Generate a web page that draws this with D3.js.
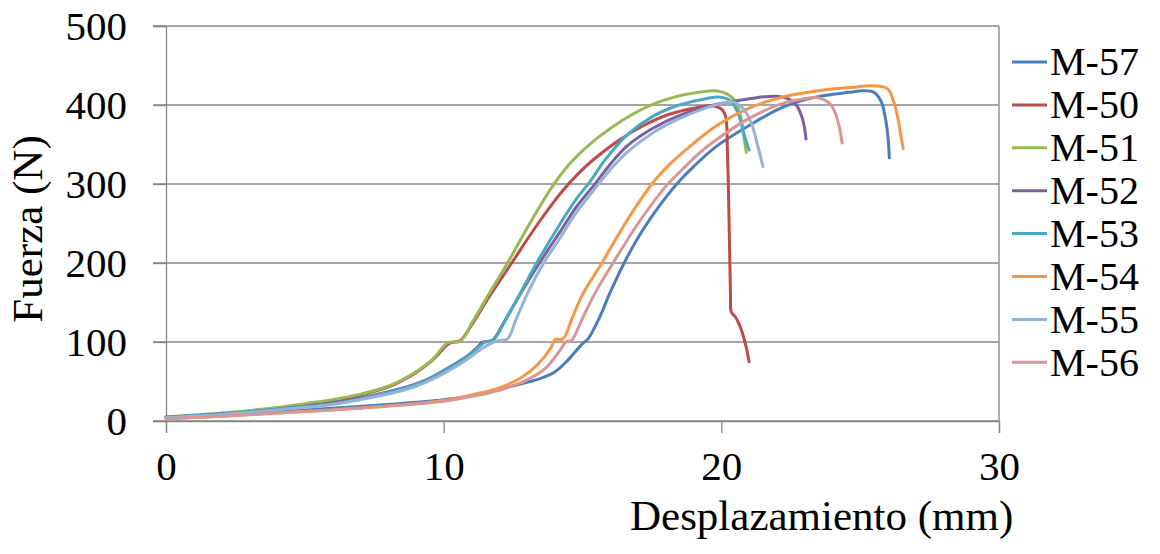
<!DOCTYPE html>
<html><head><meta charset="utf-8">
<script src="https://cdn.jsdelivr.net/npm/d3@7"></script>
<style>body{margin:0;background:#fff}svg{display:block}</style>
</head><body><svg id="c" width="1160" height="554"></svg>
<script>
const seriesNames = ["M-57","M-50","M-51","M-52","M-53","M-54","M-55","M-56"];
const seriesColors = ["#4A7EBB","#BE4B48","#98B954","#7D60A0","#46AAC5","#F79646","#95B3D7","#D99694"];
const xTicks = [0,10,20,30];
const yTicks = [0,100,200,300,400,500];

const m57 = [[0,4],[2,8],[4,12],[6,16],[8,21],[10,27],[11,32],[12,40],[13,49],[13.5,54],[14.0,62],[14.5,78],[15.0,98],[15.2,104],[15.6,130],[16.0,163],[16.5,200],[17.0,232],[17.5,259],[18.0,283],[18.5,304],[19.0,322],[19.8,347],[21,374],[22.2,397],[23.4,410],[24.6,416],[25.1,418],[25.5,416],[25.75,405],[25.9,385],[26.0,360],[26.05,333]];
const m50 = [[0,4],[2,9],[4,16],[5,21],[6,26],[7,33],[8,43],[8.5,51],[9,61],[9.6,77],[10.2,98],[10.6,102],[11.0,121],[11.6,155],[12.45,200],[13.4,250],[14.3,292],[14.9,315],[15.4,331],[16.3,355],[17.2,374],[18.1,388],[19.0,396],[19.6,399],[20.0,395],[20.15,386],[20.22,340],[20.28,250],[20.33,160],[20.36,138],[20.5,132],[20.65,122],[20.85,100],[21.0,75]];
const m51 = [[0,5],[2,10],[4,17],[5,22],[6,27],[7,34],[8,44],[8.5,52],[9,62],[9.6,78],[10.15,99],[10.6,101],[11.0,123],[11.5,153],[12.3,200],[13.1,250],[13.9,296],[14.5,324],[15.0,342],[15.6,360],[16.5,382],[17.4,399],[18.3,410],[19.2,416],[19.8,418],[20.2,414],[20.5,405],[20.7,385],[20.8,362],[20.9,340]];
const m52 = [[0,5],[2,9],[4,15],[6,23],[7,29],[8,37],[9,47],[9.6,56],[10.2,68],[10.8,81],[11.2,93],[11.4,100],[11.75,102],[12.2,127],[12.8,163],[13.45,200],[14.2,240],[14.8,272],[15.4,298],[16.0,325],[16.6,348],[17.5,370],[18.5,387],[19.5,398],[20.5,405],[21.2,409],[22.0,411],[22.4,408],[22.7,400],[22.9,385],[23.0,370],[23.05,357]];
const m53 = [[0,5],[2,9],[4,15],[6,22],[7,28],[8,36],[9,46],[9.6,55],[10.2,67],[10.8,80],[11.3,95],[11.5,100],[11.8,103],[12.2,126],[12.7,158],[13.35,200],[14.2,250],[14.8,282],[15.25,302],[15.8,330],[16.6,362],[17.5,385],[18.4,399],[19.3,407],[19.9,410],[20.3,406],[20.6,390],[20.8,365],[21.0,343]];
const m54 = [[0,3],[2,6],[4,10],[6,14],[8,19],[10,26],[11,33],[12,42],[12.8,55],[13.4,72],[13.9,95],[14.0,103],[14.3,104],[14.6,128],[15.0,160],[15.7,200],[16.5,248],[17.5,300],[18.2,327],[18.85,347],[19.8,373],[21,396],[22.2,410],[23.5,418],[24.6,422],[25.6,424],[26.0,420],[26.2,405],[26.35,385],[26.45,365],[26.55,345]];
const m55 = [[0,4],[2,8],[4,14],[6,21],[7,27],[8,34],[9,44],[9.6,53],[10.2,64],[10.8,77],[11.4,92],[11.8,100],[12.0,102],[12.3,104],[12.6,128],[13.0,160],[13.6,200],[14.2,232],[14.8,265],[15.4,292],[16.0,318],[16.6,340],[17.5,364],[18.5,383],[19.5,397],[20.0,402],[20.4,404],[20.8,395],[21.1,375],[21.3,350],[21.5,322]];
const m56 = [[0,3],[2,6],[4,10],[6,14],[8,19],[10,25],[11,31],[12,39],[13,52],[13.7,68],[14.2,90],[14.4,100],[14.6,102],[15.0,130],[15.5,165],[16.1,200],[17,250],[18.0,297],[18.7,322],[19.3,342],[20.1,363],[21,383],[22.2,402],[23.0,408],[23.5,409],[23.9,402],[24.1,390],[24.25,372],[24.35,352]];
const seriesData = [m57,m50,m51,m52,m53,m54,m55,m56];

const svg = d3.select("#c");
const L = 166, T = 26, W = 833, H = 395;
const x = d3.scaleLinear().domain([0,30]).range([L, L+W]);
const y = d3.scaleLinear().domain([0,500]).range([T+H, T]);
const font = "'Liberation Serif','Times New Roman',serif";
const gridColor = "#868686";

svg.append("g").selectAll("line").data(yTicks).join("line")
  .attr("x1", L-13).attr("x2", L+W).attr("y1", d=>y(d)).attr("y2", d=>y(d))
  .attr("stroke", gridColor).attr("stroke-width", 1.3);
svg.append("line").attr("x1", L+W).attr("x2", L+W).attr("y1", T).attr("y2", T+H)
  .attr("stroke", gridColor).attr("stroke-width", 1.3);

const yAxis = svg.append("g").attr("transform", `translate(${L},0)`)
  .call(d3.axisLeft(y).tickValues(yTicks).tickSize(13).tickPadding(26));
const xAxis = svg.append("g").attr("transform", `translate(0,${T+H})`)
  .call(d3.axisBottom(x).tickValues(xTicks).tickSize(12).tickPadding(18));
[yAxis, xAxis].forEach(g => {
  g.select(".domain").attr("stroke", gridColor).attr("stroke-width", 1.3);
  g.selectAll(".tick line").attr("stroke", gridColor).attr("stroke-width", 1.3);
  g.selectAll(".tick text").attr("fill", "#000").style("font-family", font).style("font-size", "41px");
});

const line = d3.line().x(d=>x(d[0])).y(d=>y(d[1])).curve(d3.curveCatmullRom.alpha(0.5));
svg.append("g").selectAll("path").data(seriesData).join("path")
  .attr("d", line).attr("fill", "none")
  .attr("stroke", (d,i)=>seriesColors[i]).attr("stroke-width", 3)
  .attr("stroke-linejoin", "round").attr("stroke-linecap", "round");

svg.append("text").attr("x", 630).attr("y", 530)
  .style("font-family", font).style("font-size", "43px").text("Desplazamiento (mm)");
svg.append("text").attr("transform", "translate(42,229) rotate(-90)").attr("text-anchor", "middle")
  .style("font-family", font).style("font-size", "43px").text("Fuerza (N)");

const lg = svg.append("g").selectAll("g").data(seriesNames).join("g")
  .attr("transform", (d,i)=>`translate(1012,${62 + i*42.9})`);
lg.append("line").attr("x1", 0).attr("x2", 35).attr("y1", 0).attr("y2", 0)
  .attr("stroke", (d,i)=>seriesColors[i]).attr("stroke-width", 3);
lg.append("text").attr("x", 38).attr("dy", "0.33em")
  .style("font-family", font).style("font-size", "40px").text(d=>d);
</script></body></html>
